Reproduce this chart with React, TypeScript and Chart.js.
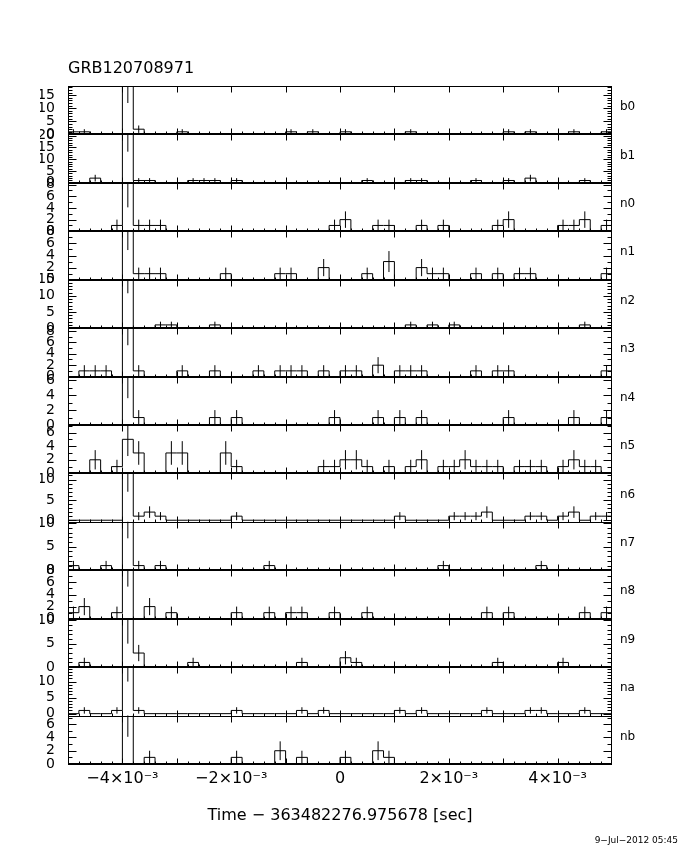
import React, { useEffect, useRef } from 'react';
import { Chart, registerables } from 'chart.js';

Chart.register(...registerables);

const FONT = '"DejaVu Sans", "Liberation Sans", sans-serif';

// ---- data ----
const detectors = ['b0', 'b1', 'n0', 'n1', 'n2', 'n3', 'n4', 'n5', 'n6', 'n7', 'n8', 'n9', 'na', 'nb'];
const BIN_START = -0.005;
const BIN_WIDTH = 0.0002;
const PEAK_BIN = 5;

const b0 = [1,1,0,0,0,19,2,0,0,0, 1,0,0,0,0,0,0,0,0,0, 1,0,1,0,0,1,0,0,0,0, 0,1,0,0,0,0,0,0,0,0, 1,0,1,0,0,0,1,0,0,1];
const b1 = [0,0,2,0,0,21,1,1,0,0, 0,1,1,1,0,1,0,0,0,0, 0,0,0,0,0,0,0,1,0,0, 0,1,1,0,0,0,0,1,0,0, 1,0,2,0,0,0,0,1,0,0];
const n0 = [0,0,0,0,1,9,1,1,1,0, 0,0,0,0,0,0,0,0,0,0, 0,0,0,0,1,2,0,0,1,1, 0,0,1,0,1,0,0,0,0,1, 2,0,0,0,0,1,1,2,0,1];
const n1 = [0,0,0,0,0,9,1,1,1,0, 0,0,0,0,1,0,0,0,0,1, 1,0,0,2,0,0,0,1,0,3, 0,0,2,1,1,0,0,1,0,1, 0,1,1,0,0,0,0,0,0,1];
const n2 = [0,0,0,0,0,16,0,0,1,1, 0,0,0,1,0,0,0,0,0,0, 0,0,0,0,0,0,0,0,0,0, 0,1,0,1,0,1,0,0,0,0, 0,0,0,0,0,0,0,1,0,0];
const n3 = [0,1,1,1,0,9,1,0,0,0, 1,0,0,1,0,0,0,1,0,1, 1,1,0,1,0,1,1,0,2,0, 1,1,1,0,0,0,0,1,0,1, 1,0,0,0,0,0,0,0,0,1];
const n4 = [0,0,0,0,0,7,1,0,0,0, 0,0,0,1,0,1,0,0,0,0, 0,0,0,0,1,0,0,0,1,0, 1,0,1,0,0,0,0,0,0,0, 1,0,0,0,0,0,1,0,0,1];
const n5 = [0,0,2,0,1,5,3,0,0,3, 3,0,0,0,3,1,0,0,0,0, 0,0,0,1,1,2,2,1,0,1, 0,1,2,0,1,1,2,1,1,1, 0,1,1,1,0,1,2,1,1,0];
const n6 = [0,0,0,0,0,12,1,2,1,0, 0,0,0,0,0,1,0,0,0,0, 0,0,0,0,0,0,0,0,0,0, 1,0,0,0,0,1,1,1,2,0, 0,0,1,1,0,1,2,0,1,1];
const n7 = [1,0,0,1,0,11,1,0,1,0, 0,0,0,0,0,0,0,0,1,0, 0,0,0,0,0,0,0,0,0,0, 0,0,0,0,1,0,0,0,0,0, 0,0,0,1,0,0,0,0,0,0];
const n8 = [1,2,0,0,1,9,0,2,0,1, 0,0,0,0,0,1,0,0,1,0, 1,1,0,0,1,0,0,1,0,0, 0,0,0,0,0,0,0,0,1,0, 1,0,0,0,0,0,0,1,0,1];
const n9 = [0,1,0,0,0,11,3,0,0,0, 0,1,0,0,0,0,0,0,0,0, 0,1,0,0,0,2,1,0,0,0, 0,0,0,0,0,0,0,0,0,1, 0,0,0,0,0,1,0,0,0,0];
const na = [0,1,0,0,1,15,1,0,0,0, 0,0,0,0,0,1,0,0,0,0, 0,1,0,1,0,0,0,0,0,0, 1,0,1,0,0,0,0,0,1,0, 0,0,1,1,0,0,0,1,0,0];
const nb = [0,0,0,0,0,8,0,1,0,0, 0,0,0,0,0,1,0,0,0,2, 0,1,0,0,0,1,0,0,2,1, 0,0,0,0,0,0,0,0,0,0, 0,0,0,0,0,0,0,0,0,0];
const counts = [b0, b1, n0, n1, n2, n3, n4, n5, n6, n7, n8, n9, na, nb];

// error of the brightest bin in each detector
const peakSigma = [7.0, 7.8, 4.9, 4.1, 5.2, 3.5, 3.4, 2.45, 5.0, 4.2, 3.7, 6.0, 5.0, 3.9];

// y axis ranges per panel
const yMin = [0, 0, 0, 0, 0, 0, 0, 0, -0.4, 0, 0, 0, -0.6, 0];
const yMax = [18.5, 20.5, 8.3, 8, 15, 8.5, 6.5, 7.1, 11.5, 10.3, 8, 10.3, 14.5, 7.3];
const yMajor = [5, 5, 2, 2, 5, 2, 2, 2, 5, 5, 2, 5, 5, 2];
const yMinorStep = 1;

const xTickValues = [-0.004, -0.002, 0, 0.002, 0.004];
const xTickLabels = ['\u22124\u00d710\u207b\u00b3', '\u22122\u00d710\u207b\u00b3', '0', '2\u00d710\u207b\u00b3', '4\u00d710\u207b\u00b3'];
const xMajorMarks = [-0.004, -0.003, -0.002, -0.001, 0, 0.001, 0.002, 0.003, 0.004];

const TITLE = 'GRB120708971';
const X_TITLE = 'Time \u2212 363482276.975678 [sec]';
const DATE = '9\u2212Jul\u22122012 05:45';

function majorTicks(k: number): number[] {
  const out: number[] = [];
  for (let j = 0; j * yMajor[k] <= yMax[k] + 1e-9; j++) out.push(j * yMajor[k]);
  return out;
}

const framePlugin = {
  id: 'frames',
  afterDatasetsDraw(chart: any) {
    const ctx = chart.ctx as CanvasRenderingContext2D;
    const xs = chart.scales.x;
    const L = Math.round(xs.left) + 0.5;
    const R = Math.round(xs.right) - 0.5;
    ctx.save();
    ctx.strokeStyle = '#000';
    ctx.fillStyle = '#000';
    ctx.lineWidth = 1;
    const seg = (x1: number, y1: number, x2: number, y2: number) => {
      ctx.beginPath();
      ctx.moveTo(x1, y1);
      ctx.lineTo(x2, y2);
      ctx.stroke();
    };
    detectors.forEach((name, k) => {
      const ys = chart.scales['y' + k];
      const T = Math.round(ys.top) + 0.5;
      const B = Math.round(ys.bottom) + 0.5;
      ctx.strokeRect(L, T, R - L, B - T);
      if (yMin[k] === 0) seg(L, B - 1, R, B - 1);
      // y ticks (left & right, inward)
      const jStart = Math.ceil(yMin[k] / yMinorStep - 1e-9);
      for (let j = jStart; j * yMinorStep <= yMax[k] + 1e-9; j++) {
        const v = j * yMinorStep;
        const py = Math.round(ys.getPixelForValue(v)) + 0.5;
        const r = v / yMajor[k];
        const major = Math.abs(r - Math.round(r)) < 1e-6;
        const len = major ? 8 : 4;
        seg(L, py, L + len, py);
        seg(R, py, R - len, py);
      }
      // x major ticks top & bottom
      xMajorMarks.forEach((v) => {
        const px = Math.round(xs.getPixelForValue(v)) + 0.5;
        seg(px, B, px, B - 6);
        seg(px, T, px, T + 6);
      });
      // x minor ticks at bin edges (bottom)
      for (let i = 1; i < counts[k].length; i++) {
        const px = Math.round(xs.getPixelForValue(BIN_START + i * BIN_WIDTH)) + 0.5;
        seg(px, B, px, B - 3);
      }
      ctx.font = `12px ${FONT}`;
      ctx.textAlign = 'left';
      ctx.textBaseline = 'middle';
      ctx.fillText(name, xs.right + 8, ys.top + 21);
    });
    ctx.font = `16px ${FONT}`;
    ctx.textAlign = 'left';
    ctx.textBaseline = 'middle';
    ctx.fillText(TITLE, xs.left, 69);
    ctx.textAlign = 'center';
    ctx.fillText(X_TITLE, (xs.left + xs.right) / 2, 816);
    ctx.font = `9px ${FONT}`;
    ctx.textAlign = 'right';
    ctx.fillText(DATE, 678, 841);
    ctx.restore();
  },
};

export default function App() {
  const ref = useRef<HTMLCanvasElement>(null);
  useEffect(() => {
    document.body.style.margin = '0';
    const datasets: any[] = [];
    counts.forEach((c, k) => {
      const hist: any[] = c.map((v, i) => ({ x: BIN_START + i * BIN_WIDTH, y: v }));
      hist.push({ x: BIN_START + c.length * BIN_WIDTH, y: c[c.length - 1] });
      datasets.push({
        label: detectors[k], data: hist, yAxisID: 'y' + k, xAxisID: 'x',
        stepped: 'before', borderColor: '#000', borderWidth: 1, pointRadius: 0, pointHitRadius: 0, fill: false,
      });
      const err: any[] = [];
      c.forEach((v, i) => {
        if (v <= 0) return;
        const s = i === PEAK_BIN ? peakSigma[k] : Math.sqrt(v);
        const xc = BIN_START + (i + 0.5) * BIN_WIDTH;
        err.push({ x: xc, y: v - s }, { x: xc, y: v + s }, { x: xc, y: null });
      });
      datasets.push({
        label: detectors[k] + ' err', data: err, yAxisID: 'y' + k, xAxisID: 'x',
        borderColor: '#000', borderWidth: 1, pointRadius: 0, pointHitRadius: 0, fill: false, spanGaps: false,
      });
    });

    const scales: any = {
      x: {
        type: 'linear', position: 'bottom', min: -0.005, max: 0.005,
        afterBuildTicks: (s: any) => { s.ticks = xTickValues.map((v) => ({ value: v })); },
        afterFit: (s: any) => { s.height = 86; },
        ticks: {
          autoSkip: false, maxRotation: 0, minRotation: 0, padding: 5, color: '#000',
          font: { family: FONT, size: 16 },
          callback: (v: any) => xTickLabels[xTickValues.indexOf(Number(v))] ?? '',
        },
        grid: { display: false, drawTicks: false },
        border: { display: false },
      },
    };
    detectors.forEach((_, k) => {
      scales['y' + k] = {
        type: 'linear', position: 'left', stack: 'det', stackWeight: 1, weight: detectors.length - k,
        min: yMin[k], max: yMax[k],
        afterBuildTicks: (s: any) => { s.ticks = majorTicks(k).map((v) => ({ value: v })); },
        afterFit: (s: any) => { s.width = 28; },
        ticks: {
          autoSkip: false, padding: 13, color: '#000', font: { family: FONT, size: 14 },
          callback: (v: any) => String(v),
        },
        grid: { display: false, drawTicks: false },
        border: { display: false },
      };
    });

    const chart = new Chart(ref.current as HTMLCanvasElement, {
      type: 'line',
      data: { datasets },
      options: {
        animation: false,
        responsive: false,
        devicePixelRatio: 1,
        events: [],
        layout: { autoPadding: false, padding: { left: 40, right: 68, top: 86, bottom: 0 } },
        plugins: { legend: { display: false }, tooltip: { enabled: false }, title: { display: false } },
        scales,
      } as any,
      plugins: [framePlugin as any],
    });
    return () => chart.destroy();
  }, []);

  return (
    <div style={{ position: 'absolute', left: 0, top: 0, width: 680, height: 850, background: '#fff' }}>
      <canvas ref={ref} width={680} height={850} style={{ display: 'block', width: 680, height: 850 }} />
    </div>
  );
}
